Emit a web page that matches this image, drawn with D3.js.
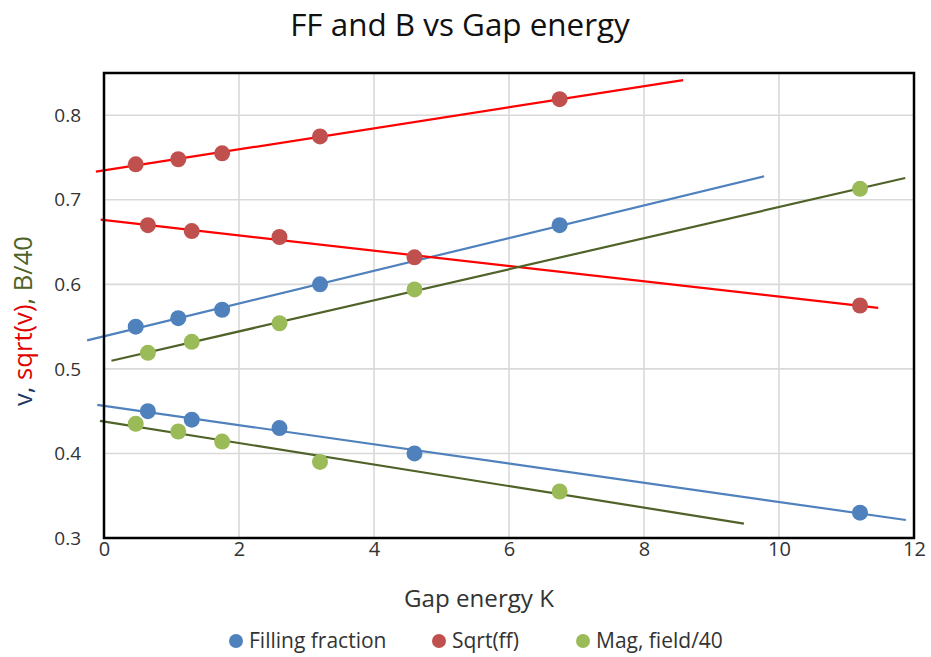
<!DOCTYPE html>
<html>
<head>
<meta charset="utf-8">
<script src="https://cdn.jsdelivr.net/npm/d3@7"></script>
<style>
  body { margin: 0; background: #fff; }
  svg { font-family: "Open Sans", Lato, sans-serif; }
</style>
</head>
<body>
<svg id="chart" width="931" height="657"></svg>
<script>
// gap energy (K) for the two groups of measurements
const gapA = [0.47, 1.1, 1.75, 3.2, 6.75];
const gapB = [0.65, 1.3, 2.6, 4.6, 11.2];

// filling fraction v
const ffA = [0.55, 0.56, 0.57, 0.60, 0.67];
const ffB = [0.45, 0.44, 0.43, 0.40, 0.33];

// sqrt(ff)
const sqrtA = [0.742, 0.748, 0.755, 0.775, 0.819];
const sqrtB = [0.670, 0.663, 0.656, 0.632, 0.575];

// magnetic field / 40
const magA = [0.435, 0.426, 0.414, 0.390, 0.355];
const magB = [0.519, 0.532, 0.554, 0.594, 0.713];

const xTicks = [0, 2, 4, 6, 8, 10, 12];
const yTicks = [0.3, 0.4, 0.5, 0.6, 0.7, 0.8];

const legendNames = ["Filling fraction", "Sqrt(ff)", "Mag, field/40"];
const markerColors = ["#4F81BD", "#C0504D", "#9BBB59"];
const lineColors = ["#4F81BD", "#FF0000", "#4F6228"];

// each group: series index, x, y, and the x range of its trendline
const groups = [
  { s: 0, x: gapA, y: ffA,   from: -0.25, to: 9.78 },
  { s: 0, x: gapB, y: ffB,   from: -0.1,  to: 11.88 },
  { s: 1, x: gapA, y: sqrtA, from: -0.12, to: 8.58 },
  { s: 1, x: gapB, y: sqrtB, from: -0.05, to: 11.47 },
  { s: 2, x: gapA, y: magA,  from: -0.06, to: 9.48 },
  { s: 2, x: gapB, y: magB,  from: 0.11,  to: 11.87 }
];

const svg = d3.select("#chart");
const plotL = 104, plotR = 914, plotT = 73, plotB = 538;

const x = d3.scaleLinear().domain([0, 12]).range([plotL, plotR]);
const y = d3.scaleLinear().domain([0.3, 0.85]).range([plotB, plotT]);

// shrink or grow a text element until it is the wanted width
function fitWidth(sel, width) {
  const w = sel.node().getComputedTextLength();
  const fs = parseFloat(sel.attr("font-size"));
  sel.attr("font-size", fs * width / w);
}

// grid
svg.append("g")
  .selectAll("line")
  .data(xTicks.slice(1, -1))
  .join("line")
  .attr("x1", d => x(d)).attr("x2", d => x(d))
  .attr("y1", plotT).attr("y2", plotB)
  .attr("stroke", "#D9D9D9").attr("stroke-width", 1.6);

svg.append("g")
  .selectAll("line")
  .data(yTicks.slice(1))
  .join("line")
  .attr("x1", plotL).attr("x2", plotR)
  .attr("y1", d => y(d)).attr("y2", d => y(d))
  .attr("stroke", "#D9D9D9").attr("stroke-width", 1.6);

// axes (labels only)
const xAxis = svg.append("g")
  .attr("transform", `translate(0,${plotB})`)
  .call(d3.axisBottom(x).tickValues(xTicks).tickSize(0).tickPadding(4).tickFormat(d3.format("d")));
xAxis.select(".domain").remove();
xAxis.selectAll("text").attr("font-size", 20).attr("fill", "#333").attr("font-family", "Open Sans");

const yAxis = svg.append("g")
  .attr("transform", `translate(${plotL},0)`)
  .call(d3.axisLeft(y).tickValues(yTicks).tickSize(0).tickPadding(23).tickFormat(d3.format(".1f")));
yAxis.select(".domain").remove();
yAxis.selectAll("text").attr("font-size", 19).attr("fill", "#333").attr("font-family", "Open Sans");

// trendlines (least squares)
function fit(xs, ys) {
  const mx = d3.mean(xs), my = d3.mean(ys);
  const b = d3.sum(xs, (v, i) => (v - mx) * (ys[i] - my)) / d3.sum(xs, v => (v - mx) * (v - mx));
  return { b: b, a: my - b * mx };
}

const line = d3.line().x(d => x(d[0])).y(d => y(d[1]));

groups.forEach(g => {
  const f = fit(g.x, g.y);
  const pts = [g.from, g.to].map(v => [v, f.a + f.b * v]);
  svg.append("path")
    .attr("d", line(pts))
    .attr("fill", "none")
    .attr("stroke", lineColors[g.s])
    .attr("stroke-width", 2.2);
});

// markers
groups.forEach(g => {
  svg.append("g")
    .selectAll("circle")
    .data(g.x.map((v, i) => [v, g.y[i]]))
    .join("circle")
    .attr("cx", d => x(d[0]))
    .attr("cy", d => y(d[1]))
    .attr("r", 8)
    .attr("fill", markerColors[g.s]);
});

// plot border
svg.append("rect")
  .attr("x", plotL).attr("y", plotT)
  .attr("width", plotR - plotL).attr("height", plotB - plotT)
  .attr("fill", "none").attr("stroke", "#000").attr("stroke-width", 2.5);

// title
const title = svg.append("text")
  .attr("x", 460).attr("y", 36)
  .attr("text-anchor", "middle")
  .attr("font-size", 26)
  .attr("fill", "#111")
  .text("FF and B vs Gap energy");
fitWidth(title, 340);

// x axis title
const xt = svg.append("text")
  .attr("x", 479).attr("y", 607)
  .attr("text-anchor", "middle")
  .attr("font-size", 20)
  .attr("fill", "#333")
  .text("Gap energy K");
fitWidth(xt, 150);

// y axis title, three colours
const yt = svg.append("text")
  .attr("transform", "translate(32,321) rotate(-90)")
  .attr("text-anchor", "middle")
  .attr("font-size", 20);
yt.append("tspan").attr("fill", "#1F3864").text("v, ");
yt.append("tspan").attr("fill", "#E00000").text("sqrt(v)");
yt.append("tspan").attr("fill", "#4F6228").text(", B/40");
fitWidth(yt, 170);

// legend
const legendX = [236, 439, 583];
const lg = svg.append("g")
  .selectAll("g")
  .data(legendNames)
  .join("g")
  .attr("transform", (d, i) => `translate(${legendX[i]},641)`);
lg.append("circle").attr("r", 7).attr("fill", (d, i) => markerColors[i]);
lg.append("text")
  .attr("x", 13).attr("dy", "0.35em")
  .attr("font-size", 21)
  .attr("fill", "#333")
  .text(d => d);
</script>
</body>
</html>
